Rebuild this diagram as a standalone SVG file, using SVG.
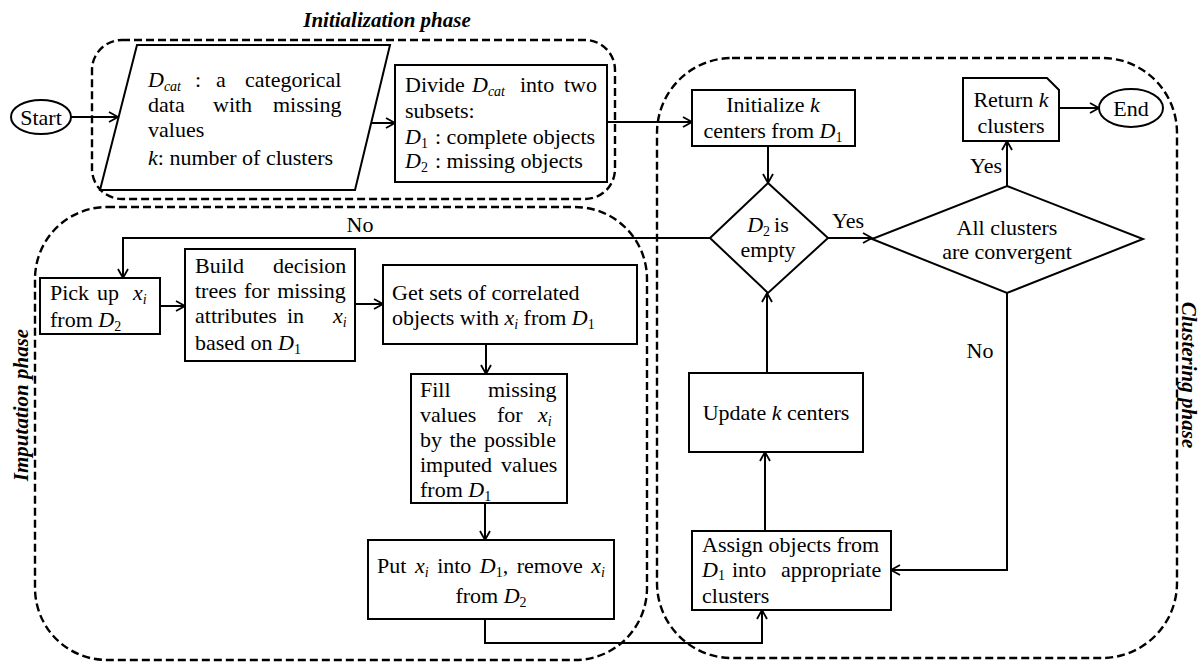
<svg xmlns="http://www.w3.org/2000/svg" width="1201" height="663" viewBox="0 0 1201 663">
  <defs>
    <style>
      .t { font-family: "Liberation Serif", "Times New Roman", serif; font-size: 22px; fill: #000; }
      .c { text-anchor: middle; }
      .m { font-style: italic; }
      .s { font-size: 14px; }
      .ph { font-family: "Liberation Serif", "Times New Roman", serif; font-size: 21px; font-weight: bold; font-style: italic; fill: #000; text-anchor: middle; }
      .node { fill: #fff; stroke: #000; stroke-width: 2; }
      .edge { fill: none; stroke: #000; stroke-width: 2; marker-end: url(#arr); }
      .zone { fill: none; stroke: #000; stroke-width: 2.4; stroke-dasharray: 8 4; }
    </style>
    <marker id="arr" markerUnits="userSpaceOnUse" markerWidth="12" markerHeight="12" refX="10" refY="6" orient="auto">
      <path d="M1,1 L10,6 L1,11" fill="none" stroke="#000" stroke-width="1.8"/>
    </marker>
  </defs>

  <rect width="1201" height="663" fill="#fff"/>

  <!-- phase regions -->
  <g id="zones">
    <rect class="zone" x="92" y="40" width="523" height="159" rx="30"/>
    <rect class="zone" x="35" y="207" width="612" height="453" rx="72"/>
    <rect class="zone" x="657" y="58" width="520" height="600" rx="75"/>
    <text class="ph" x="387" y="27">Initialization phase</text>
    <text class="ph" transform="translate(28,405) rotate(-90)">Imputation phase</text>
    <text class="ph" transform="translate(1182,375) rotate(90)">Clustering phase</text>
  </g>

  <!-- connectors -->
  <g id="connectors">
    <path class="edge" d="M71,117 L118,117"/>
    <path class="edge" d="M371,123 L395,123"/>
    <path class="edge" d="M607,122 L692,122"/>
    <path class="edge" d="M768,146 L768,183"/>
    <path class="edge" d="M828,238 L872,238"/>
    <path class="edge" d="M1007,186 L1007,141"/>
    <path class="edge" d="M1059,108 L1099,108"/>
    <path class="edge" d="M710,238 L123,238 L123,278"/>
    <path class="edge" d="M160,306 L185,306"/>
    <path class="edge" d="M355,304 L383,304"/>
    <path class="edge" d="M486,344 L486,374"/>
    <path class="edge" d="M485,503 L485,540"/>
    <path class="edge" d="M485,619 L485,643 L762,643 L762,610"/>
    <path class="edge" d="M765,531 L765,452"/>
    <path class="edge" d="M767,373 L767,293"/>
    <path class="edge" d="M1007,293 L1007,570 L891,570"/>
    <text class="t c" x="848" y="228">Yes</text>
    <text class="t" x="1002" y="173" text-anchor="end">Yes</text>
    <text class="t c" x="360" y="232">No</text>
    <text class="t c" x="980" y="358">No</text>
  </g>

  <!-- terminals -->
  <g id="start">
    <ellipse class="node" cx="41" cy="117" rx="30" ry="17"/>
    <text class="t c" x="41" y="125">Start</text>
  </g>
  <g id="end">
    <ellipse class="node" cx="1131" cy="108" rx="32" ry="19"/>
    <text class="t c" x="1131" y="116">End</text>
  </g>

  <!-- input data -->
  <g id="input">
    <polygon class="node" points="137,45 390,45 355,190 100,190"/>
    <text class="t" y="87"><tspan x="148" class="m">D</tspan><tspan class="m s" dy="4">cat</tspan><tspan x="195" dy="-4">:</tspan><tspan x="216">a</tspan><tspan x="245">categorical</tspan></text>
    <text class="t" y="112"><tspan x="148">data</tspan><tspan x="213">with</tspan><tspan x="273">missing</tspan></text>
    <text class="t" x="148" y="137">values</text>
    <text class="t" y="165"><tspan x="148" class="m">k</tspan><tspan>: number of clusters</tspan></text>
  </g>

  <g id="divide">
    <rect class="node" x="395" y="65" width="212" height="117"/>
    <text class="t" y="92"><tspan x="405">Divide</tspan><tspan x="472" class="m">D</tspan><tspan class="m s" dy="4">cat</tspan><tspan x="520" dy="-4">into</tspan><tspan x="564">two</tspan></text>
    <text class="t" x="405" y="118">subsets:</text>
    <text class="t" y="144"><tspan x="405" class="m">D</tspan><tspan class="s" dy="4">1</tspan><tspan x="435" dy="-4">: complete objects</tspan></text>
    <text class="t" y="168"><tspan x="405" class="m">D</tspan><tspan class="s" dy="4">2</tspan><tspan x="435" dy="-4">: missing objects</tspan></text>
  </g>

  <!-- clustering phase -->
  <g id="init-centers">
    <rect class="node" x="692" y="90" width="163" height="56"/>
    <text class="t c" x="773" y="112">Initialize <tspan class="m">k</tspan></text>
    <text class="t c" x="773" y="138">centers from <tspan class="m">D</tspan><tspan class="s" dy="4">1</tspan></text>
  </g>

  <g id="d2-empty">
    <polygon class="node" points="768,183 828,238 768,293 710,238"/>
    <text class="t c" x="768" y="232"><tspan class="m">D</tspan><tspan class="s" dy="4">2</tspan><tspan dy="-4" dx="4">is</tspan></text>
    <text class="t c" x="768" y="257">empty</text>
  </g>

  <g id="convergent">
    <polygon class="node" points="1007,186 1143,239 1007,293 872,239"/>
    <text class="t c" x="1007" y="235">All clusters</text>
    <text class="t c" x="1007" y="259">are convergent</text>
  </g>

  <g id="return">
    <polygon class="node" points="963,78 1047,78 1059,90 1059,141 963,141"/>
    <text class="t c" x="1011" y="107">Return <tspan class="m">k</tspan></text>
    <text class="t c" x="1011" y="133">clusters</text>
  </g>

  <g id="update">
    <rect class="node" x="689" y="373" width="174" height="79"/>
    <text class="t c" x="776" y="420">Update <tspan class="m">k</tspan> centers</text>
  </g>

  <g id="assign">
    <rect class="node" x="692" y="531" width="199" height="79"/>
    <text class="t" x="702" y="552">Assign objects from</text>
    <text class="t" y="577"><tspan x="702" class="m">D</tspan><tspan class="s" dy="3">1</tspan><tspan x="732" dy="-3">into</tspan><tspan x="781">appropriate</tspan></text>
    <text class="t" x="702" y="603">clusters</text>
  </g>

  <!-- imputation phase -->
  <g id="pick">
    <rect class="node" x="40" y="278" width="120" height="56"/>
    <text class="t" y="300"><tspan x="50">Pick</tspan><tspan x="97">up</tspan><tspan x="133" class="m">x</tspan><tspan class="m s" dy="4">i</tspan></text>
    <text class="t" y="327"><tspan x="50">from </tspan><tspan class="m">D</tspan><tspan class="s" dy="4">2</tspan></text>
  </g>

  <g id="build">
    <rect class="node" x="185" y="249" width="170" height="112"/>
    <text class="t" y="273"><tspan x="195">Build</tspan><tspan x="273">decision</tspan></text>
    <text class="t" x="195" y="298" word-spacing="2">trees for missing</text>
    <text class="t" y="323"><tspan x="195">attributes</tspan><tspan x="287">in</tspan><tspan x="333" class="m">x</tspan><tspan class="m s" dy="4">i</tspan></text>
    <text class="t" y="350"><tspan x="195">based on </tspan><tspan class="m">D</tspan><tspan class="s" dy="4">1</tspan></text>
  </g>

  <g id="correlated">
    <rect class="node" x="383" y="265" width="254" height="79"/>
    <text class="t" x="392" y="300">Get sets of correlated</text>
    <text class="t" y="325"><tspan x="392">objects with </tspan><tspan class="m">x</tspan><tspan class="m s" dy="4">i</tspan><tspan dy="-4"> from </tspan><tspan class="m">D</tspan><tspan class="s" dy="4">1</tspan></text>
  </g>

  <g id="fill">
    <rect class="node" x="411" y="374" width="156" height="129"/>
    <text class="t" y="397"><tspan x="420">Fill</tspan><tspan x="488">missing</tspan></text>
    <text class="t" y="422"><tspan x="420">values</tspan><tspan x="497">for</tspan><tspan x="538" class="m">x</tspan><tspan class="m s" dy="4">i</tspan></text>
    <text class="t" x="420" y="447" word-spacing="2">by the possible</text>
    <text class="t" y="472"><tspan x="420">imputed</tspan><tspan x="501">values</tspan></text>
    <text class="t" y="497"><tspan x="420">from </tspan><tspan class="m">D</tspan><tspan class="s" dy="4">1</tspan></text>
  </g>

  <g id="put">
    <rect class="node" x="368" y="540" width="246" height="79"/>
    <text class="t c" x="491" y="573" word-spacing="3">Put <tspan class="m">x</tspan><tspan class="m s" dy="4">i</tspan><tspan dy="-4"> into </tspan><tspan class="m">D</tspan><tspan class="s" dy="4">1</tspan><tspan dy="-4">, remove </tspan><tspan class="m">x</tspan><tspan class="m s" dy="4">i</tspan></text>
    <text class="t c" x="491" y="603">from <tspan class="m">D</tspan><tspan class="s" dy="4">2</tspan></text>
  </g>
</svg>
